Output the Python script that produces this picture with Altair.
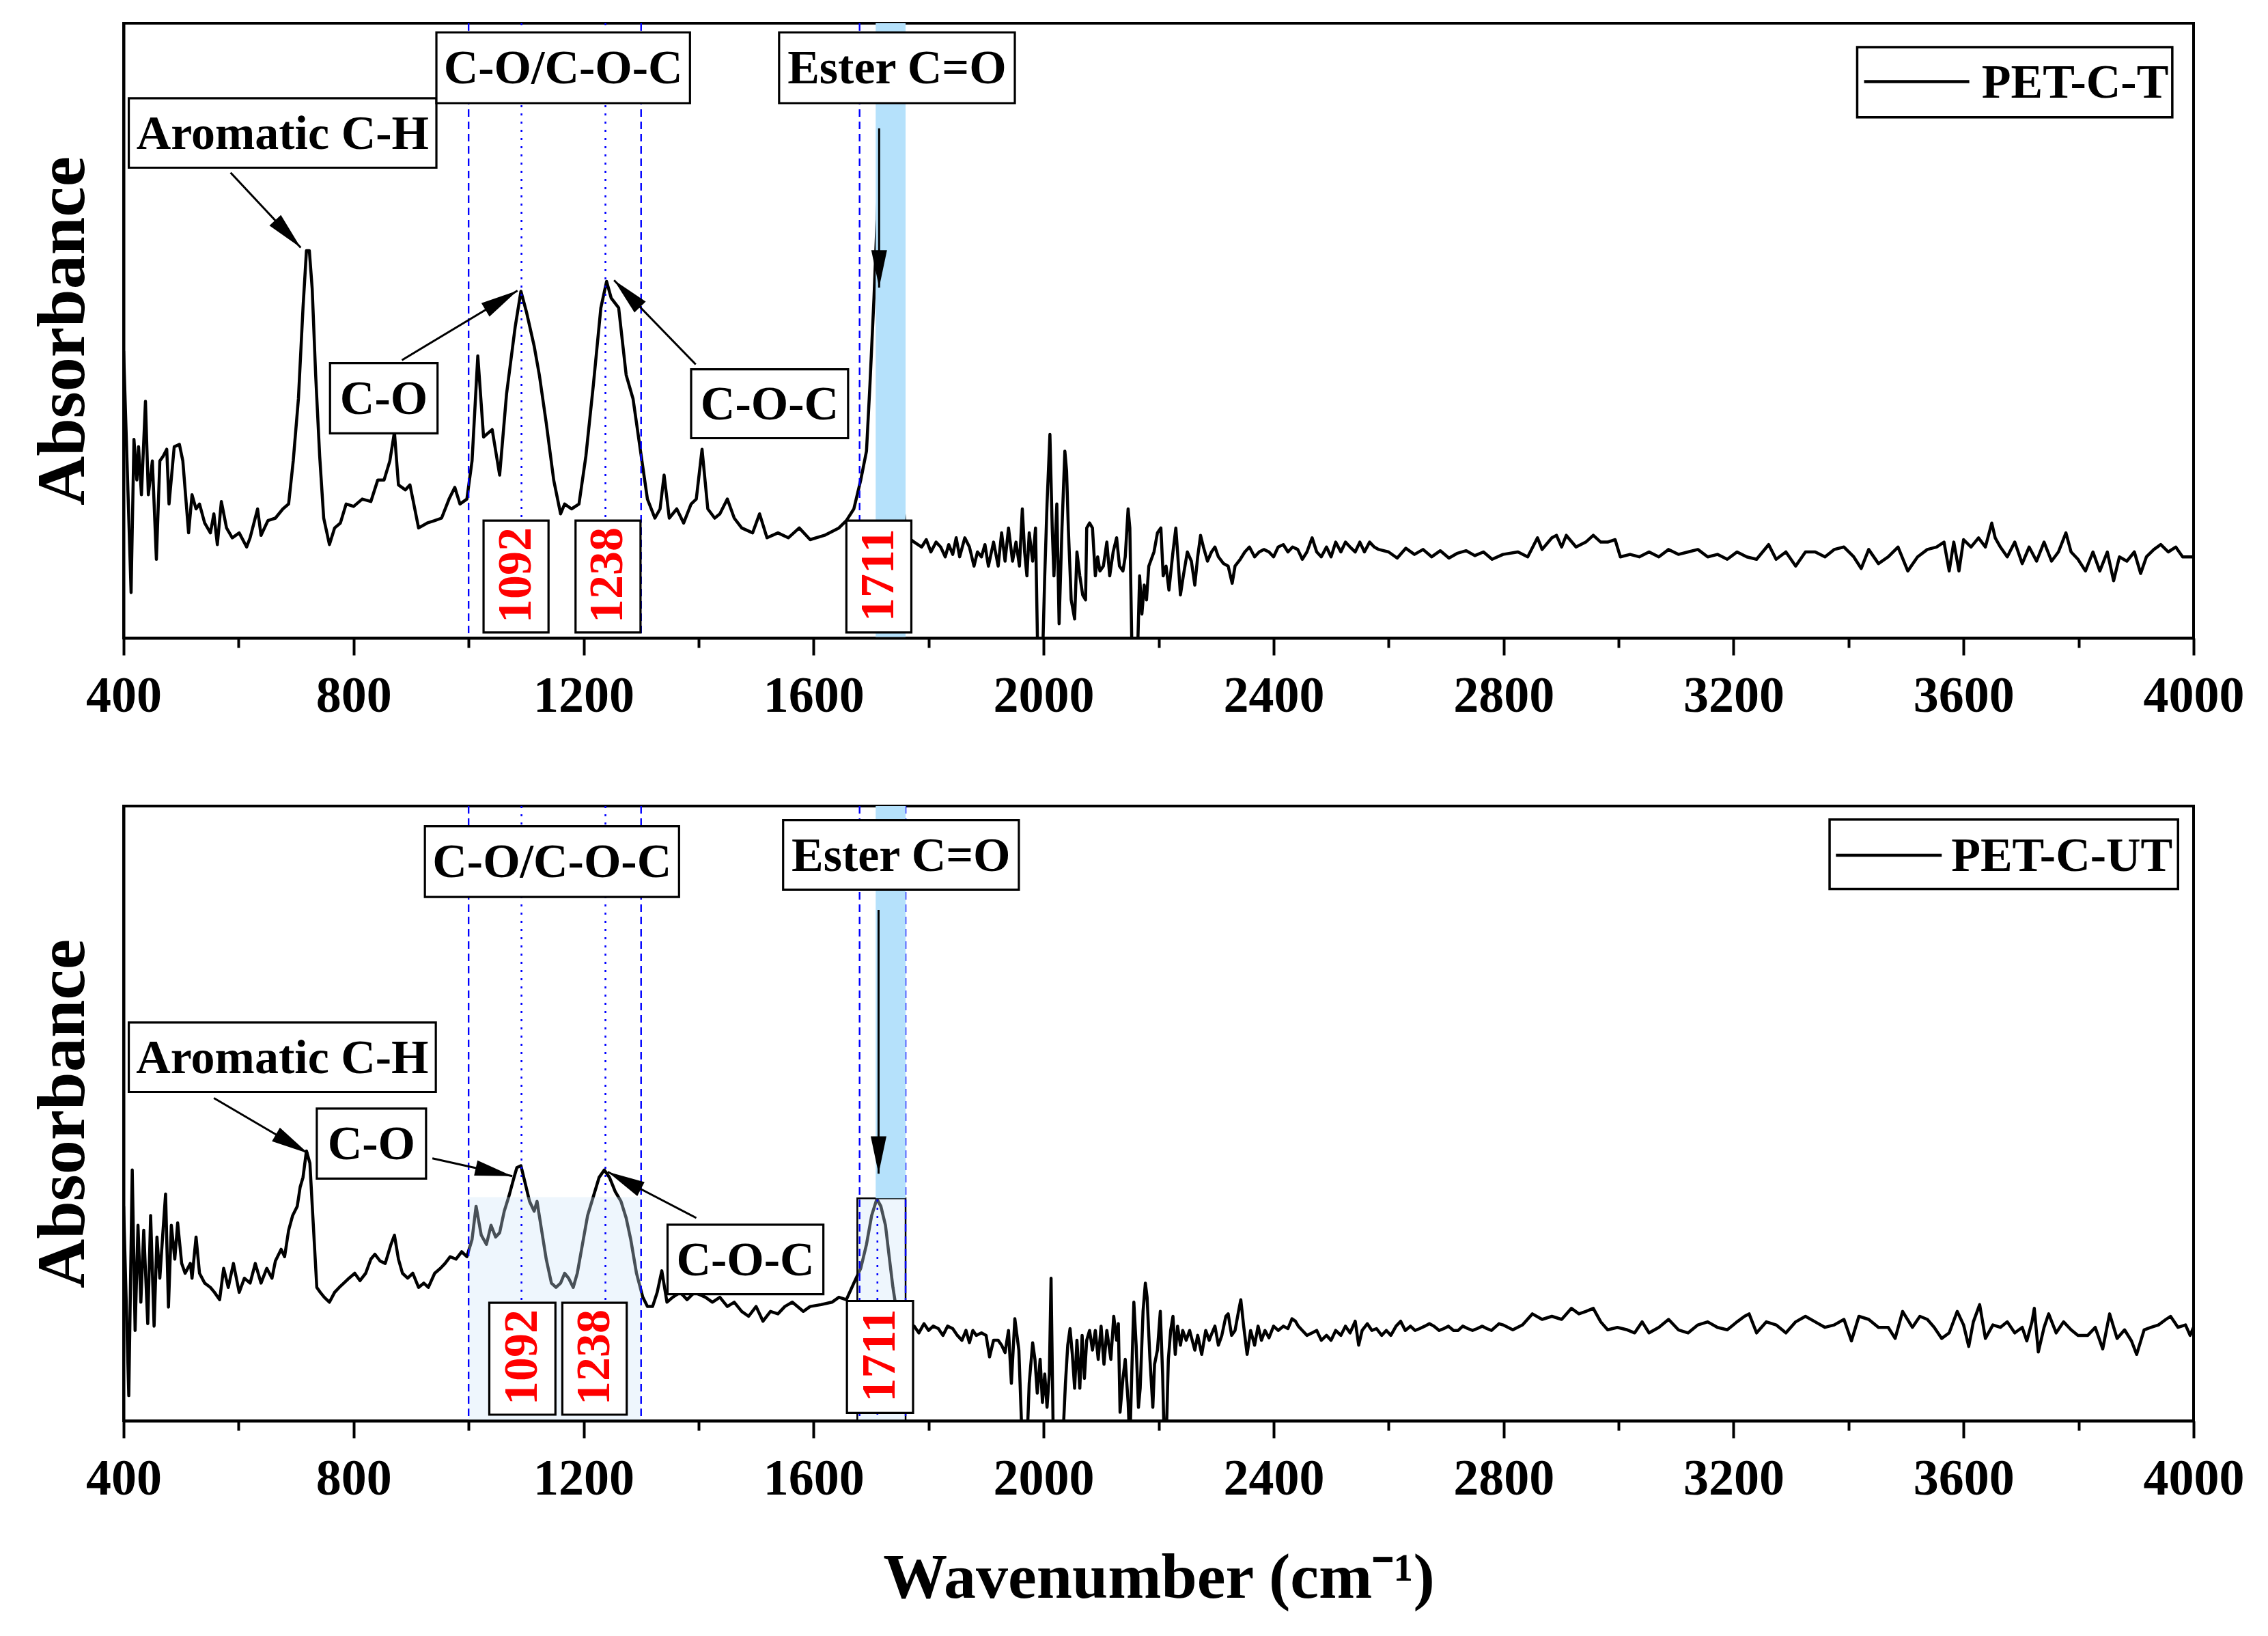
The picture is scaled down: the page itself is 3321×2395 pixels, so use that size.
import math

import altair as alt
import pandas as pd

FONT = "Liberation Serif"
W, H = 3031, 900

# PET-C-T spectrum (upper panel): (wavenumber, absorbance in % of panel height)
top_spectrum = [
    (400, 46.7), (413, 7.4), (418, 32.3), (423, 25.7), (426, 31.1), (431, 23.3), (438, 38.5), (443, 23.3),
    (450, 28.8), (457, 12.8), (463, 28.8), (469, 29.6), (475, 30.7), (479, 21.8), (488, 31.1), (497, 31.5),
    (503, 28.8), (513, 17.1), (519, 23.3), (526, 21.0), (532, 21.8), (541, 18.7), (551, 17.1), (557, 20.2),
    (563, 15.2), (570, 22.2), (579, 17.9), (589, 16.3), (601, 17.1), (614, 14.8), (620, 16.3), (633, 21.0),
    (639, 16.7), (651, 19.1), (664, 19.5), (677, 21.0), (687, 21.8), (695, 28.8), (704, 38.9), (712, 53.7),
    (718, 63.0), (723, 63.0), (728, 56.8), (734, 42.8), (741, 29.6), (748, 19.5), (758, 15.2), (767, 17.9),
    (777, 18.7), (787, 21.8), (800, 21.4), (815, 22.6), (830, 22.2), (842, 25.7), (853, 25.7), (863, 28.8),
    (871, 33.5), (878, 24.9), (890, 24.1), (898, 24.9), (903, 22.6), (913, 17.9), (928, 18.7), (941, 19.1),
    (953, 19.5), (966, 22.6), (976, 24.5), (985, 21.8), (997, 22.6), (1006, 28.8), (1016, 45.9), (1026, 32.7),
    (1041, 33.9), (1054, 26.5), (1066, 39.7), (1081, 50.6), (1091, 56.4), (1101, 52.9), (1114, 47.5),
    (1123, 42.8), (1135, 35.0), (1148, 25.7), (1160, 20.2), (1167, 21.8), (1179, 21.0), (1192, 21.8),
    (1204, 29.6), (1217, 41.2), (1230, 53.7), (1240, 58.0), (1248, 55.3), (1261, 53.7), (1274, 42.8),
    (1286, 38.9), (1299, 30.4), (1311, 22.6), (1324, 19.5), (1333, 21.0), (1340, 26.5), (1349, 19.5),
    (1362, 21.0), (1374, 18.7), (1387, 21.8), (1396, 22.6), (1406, 30.7), (1416, 21.0), (1428, 19.5),
    (1437, 20.2), (1450, 22.6), (1462, 19.5), (1475, 17.9), (1494, 17.1), (1506, 20.2), (1519, 16.3),
    (1538, 17.1), (1556, 16.3), (1575, 17.9), (1594, 16.0), (1619, 16.7), (1644, 17.9), (1657, 19.1),
    (1670, 21.0), (1682, 25.7), (1692, 30.4), (1698, 41.2), (1705, 55.3), (1712, 72.0), (1718, 74.0),
    (1745, 30.0), (1762, 16.5), (1775, 15.6), (1788, 14.8), (1796, 16.0), (1804, 14.0), (1813, 15.6),
    (1821, 14.8), (1829, 13.2), (1835, 15.2), (1842, 13.6), (1848, 16.3), (1854, 13.2), (1863, 16.3),
    (1871, 14.8), (1879, 11.7), (1885, 14.0), (1892, 13.2), (1898, 15.2), (1904, 11.7), (1913, 15.6),
    (1921, 11.7), (1927, 17.1), (1933, 12.5), (1939, 17.9), (1946, 12.5), (1952, 15.6), (1958, 11.7),
    (1963, 21.0), (1967, 14.0), (1971, 10.1), (1975, 17.1), (1981, 12.5), (1986, 17.9), (1990, -4),
    (1994, -4), (1998, -4), (2002, 10.1), (2006, 21.8), (2011, 33.1), (2015, 17.9), (2018, 10.1),
    (2023, 21.8), (2027, 2.3), (2032, 17.9), (2037, 30.4), (2040, 27.2), (2043, 17.9), (2048, 6.2),
    (2054, 3.1), (2058, 14.0), (2063, 10.1), (2068, 7.0), (2073, 6.2), (2075, 17.9), (2080, 18.7),
    (2085, 17.9), (2090, 10.1), (2094, 13.2), (2098, 10.9), (2104, 11.7), (2110, 15.6), (2115, 10.1),
    (2121, 14.0), (2127, 16.3), (2132, 11.7), (2138, 10.9), (2142, 13.2), (2147, 21.0), (2150, 17.9),
    (2154, -4), (2158, -4), (2163, -4), (2167, 10.1), (2171, 3.9), (2175, 8.6), (2179, 6.2), (2183, 11.7),
    (2192, 14.0), (2198, 17.1), (2204, 17.9), (2208, 10.1), (2213, 11.7), (2218, 7.8), (2225, 14.0),
    (2230, 17.9), (2233, 14.0), (2238, 7.0), (2243, 10.1), (2250, 14.0), (2257, 12.5), (2263, 8.6),
    (2268, 13.2), (2273, 16.7), (2278, 14.8), (2285, 12.5), (2292, 14.0), (2298, 14.8), (2304, 13.2),
    (2313, 12.1), (2321, 11.7), (2328, 8.9), (2333, 11.7), (2342, 12.8), (2350, 14.0), (2358, 14.8),
    (2367, 13.2), (2375, 14.0), (2383, 14.4), (2392, 14.0), (2400, 13.2), (2408, 14.8), (2417, 15.2),
    (2425, 14.0), (2433, 14.8), (2442, 14.4), (2450, 12.8), (2458, 14.0), (2467, 16.3), (2475, 14.0),
    (2483, 13.2), (2492, 14.8), (2500, 13.2), (2508, 15.6), (2517, 14.0), (2525, 15.6), (2533, 14.8),
    (2542, 14.0), (2550, 15.6), (2558, 14.0), (2567, 15.6), (2575, 14.8), (2583, 14.4), (2600, 14.0),
    (2615, 13.0), (2630, 14.6), (2645, 13.6), (2660, 14.4), (2675, 13.2), (2690, 14.2), (2705, 13.0),
    (2720, 13.8), (2735, 14.2), (2750, 13.4), (2765, 14.0), (2780, 12.8), (2799, 13.6), (2825, 14.0),
    (2842, 13.2), (2859, 16.3), (2867, 14.4), (2884, 16.3), (2892, 16.7), (2901, 14.8), (2909, 16.7),
    (2926, 14.8), (2943, 15.6), (2956, 16.7), (2969, 15.6), (2981, 15.6), (2994, 16.0), (3003, 13.2),
    (3020, 13.6), (3036, 13.2), (3053, 14.0), (3070, 13.2), (3087, 14.4), (3104, 13.6), (3121, 14.0),
    (3138, 14.4), (3155, 13.2), (3172, 13.6), (3189, 12.8), (3206, 14.0), (3223, 13.2), (3240, 12.8),
    (3261, 15.2), (3274, 12.8), (3291, 14.0), (3308, 11.7), (3325, 14.0), (3342, 14.0), (3359, 13.2),
    (3375, 14.4), (3392, 14.8), (3409, 13.2), (3422, 11.3), (3435, 14.4), (3452, 12.1), (3469, 13.2),
    (3486, 14.8), (3503, 10.9), (3520, 13.2), (3537, 14.4), (3553, 14.8), (3566, 15.6), (3575, 10.9),
    (3583, 15.6), (3592, 10.9), (3600, 16.0), (3613, 14.8), (3626, 16.3), (3638, 14.8), (3649, 18.7),
    (3655, 16.3), (3664, 14.8), (3676, 13.2), (3689, 15.6), (3702, 12.1), (3714, 14.8), (3727, 12.5),
    (3740, 15.6), (3753, 12.5), (3765, 14.0), (3778, 17.1), (3787, 14.0), (3799, 12.8), (3812, 10.9),
    (3825, 14.0), (3837, 10.9), (3850, 14.0), (3861, 9.3), (3871, 13.2), (3884, 12.5), (3897, 14.0),
    (3908, 10.5), (3918, 13.2), (3931, 14.4), (3943, 15.2), (3956, 14.0), (3969, 14.8), (3981, 13.2),
    (3998, 13.2), (4000, 13.2),
]

# PET-C-UT spectrum (lower panel)
bottom_spectrum = [
    (400, 34.9), (409, 4.1), (415, 40.8), (420, 14.7), (425, 31.8), (430, 19.3), (435, 31.0), (442, 15.8),
    (447, 33.4), (453, 15.4), (458, 29.9), (463, 23.2), (468, 30.2), (473, 36.9), (478, 18.5), (483, 31.8),
    (489, 26.3), (494, 32.2), (501, 25.6), (507, 24.0), (516, 25.6), (519, 23.2), (526, 29.9), (532, 24.0),
    (541, 22.4), (551, 21.7), (558, 20.9), (567, 19.7), (574, 24.8), (582, 21.7), (591, 25.6), (601, 20.9),
    (610, 23.2), (620, 22.4), (629, 25.6), (639, 22.4), (649, 24.8), (658, 23.2), (664, 26.0), (674, 27.9),
    (680, 26.7), (687, 31.0), (694, 33.4), (702, 34.9), (707, 38.0), (712, 39.6), (718, 43.9), (724, 41.9),
    (729, 33.4), (736, 21.7), (742, 20.9), (749, 20.1), (758, 19.3), (767, 20.9), (775, 21.7), (783, 22.4),
    (792, 23.2), (802, 24.0), (811, 22.8), (821, 24.0), (830, 26.3), (837, 27.1), (846, 26.0), (855, 25.6),
    (865, 28.7), (871, 30.2), (878, 26.3), (885, 24.0), (894, 23.2), (903, 24.0), (913, 21.7), (922, 22.4),
    (930, 21.7), (941, 24.0), (951, 24.8), (959, 25.6), (968, 26.7), (978, 26.3), (988, 27.5), (997, 26.7),
    (1006, 29.5), (1013, 34.9), (1022, 30.2), (1031, 28.7), (1039, 31.8), (1047, 29.9), (1054, 30.6),
    (1062, 34.1), (1070, 36.5), (1079, 39.6), (1084, 41.2), (1091, 41.5), (1098, 38.8), (1106, 35.7),
    (1114, 34.1), (1119, 35.7), (1127, 31.0), (1135, 26.3), (1144, 22.4), (1152, 21.7), (1160, 22.4),
    (1167, 24.0), (1174, 23.2), (1182, 21.7), (1189, 24.0), (1198, 28.7), (1207, 33.4), (1217, 36.5),
    (1227, 39.6), (1236, 40.8), (1245, 39.6), (1255, 37.3), (1265, 35.7), (1274, 33.0), (1282, 29.5),
    (1292, 24.0), (1303, 20.1), (1311, 18.6), (1320, 18.6), (1328, 20.9), (1336, 24.4), (1345, 19.3),
    (1355, 20.1), (1368, 20.9), (1380, 19.7), (1393, 20.9), (1412, 20.1), (1424, 19.3), (1437, 20.1),
    (1450, 18.6), (1462, 19.3), (1475, 17.8), (1487, 17.0), (1500, 18.6), (1512, 16.2), (1525, 17.8),
    (1538, 17.4), (1550, 18.6), (1563, 19.3), (1582, 17.8), (1594, 18.6), (1613, 18.9), (1632, 19.3),
    (1644, 20.1), (1657, 19.7), (1670, 22.4), (1682, 24.8), (1692, 28.7), (1701, 33.4), (1710, 36.1),
    (1717, 34.9), (1725, 31.8), (1732, 26.3), (1738, 21.7), (1742, 19.3), (1758, 16.2), (1775, 15.4),
    (1783, 14.3), (1792, 15.8), (1800, 14.7), (1808, 15.4), (1817, 15.0), (1825, 13.9), (1833, 15.4),
    (1842, 15.0), (1850, 13.9), (1858, 13.1), (1865, 14.7), (1871, 12.7), (1877, 14.7), (1883, 13.9),
    (1892, 14.3), (1900, 13.9), (1906, 10.4), (1913, 13.1), (1921, 13.1), (1927, 12.3), (1933, 11.1),
    (1939, 14.7), (1944, 6.1), (1950, 16.6), (1957, 11.5), (1963, -4), (1967, -4), (1971, -4), (1975, 6.1),
    (1981, 12.7), (1985, 10.0), (1989, 4.5), (1994, 10.0), (1998, 3.0), (2002, 7.6), (2006, 2.2),
    (2010, 7.6), (2013, 23.2), (2017, -4), (2023, -4), (2029, -4), (2033, -4), (2038, 6.1), (2042, 12.3),
    (2046, 15.0), (2050, 10.8), (2054, 5.3), (2058, 13.1), (2063, 5.3), (2067, 13.9), (2071, 6.9),
    (2075, 13.1), (2080, 14.7), (2085, 11.5), (2090, 14.7), (2095, 10.0), (2100, 15.4), (2105, 9.2),
    (2110, 14.7), (2117, 10.0), (2122, 17.0), (2127, 13.1), (2130, 15.8), (2133, 1.4), (2138, 6.9),
    (2142, 10.0), (2147, 3.0), (2150, -4), (2154, 10.0), (2157, 19.3), (2161, 12.3), (2165, 2.2),
    (2168, 5.3), (2173, 17.8), (2177, 22.4), (2180, 20.1), (2185, 10.0), (2190, 2.2), (2193, 9.2),
    (2198, 11.5), (2203, 17.8), (2207, 7.6), (2210, -4), (2213, -4), (2217, 10.0), (2221, 14.7),
    (2225, 17.0), (2229, 10.8), (2233, 15.4), (2238, 12.3), (2242, 14.7), (2248, 13.1), (2254, 14.7),
    (2263, 11.5), (2268, 13.9), (2275, 10.8), (2282, 14.7), (2288, 13.1), (2293, 14.3), (2298, 15.4),
    (2304, 12.3), (2310, 13.9), (2317, 17.0), (2321, 17.4), (2327, 13.9), (2333, 14.7), (2339, 17.8),
    (2343, 19.7), (2348, 15.4), (2354, 10.8), (2360, 14.7), (2367, 12.3), (2373, 15.4), (2379, 13.1),
    (2385, 14.7), (2392, 13.5), (2400, 15.4), (2408, 14.7), (2417, 15.4), (2425, 15.0), (2432, 16.6),
    (2438, 16.2), (2443, 15.4), (2450, 14.7), (2458, 13.9), (2467, 14.3), (2475, 14.7), (2483, 13.1),
    (2492, 13.9), (2500, 13.1), (2508, 14.7), (2517, 13.9), (2525, 15.4), (2533, 14.3), (2542, 16.2),
    (2548, 12.3), (2554, 14.7), (2563, 15.8), (2571, 14.7), (2579, 15.0), (2588, 13.9), (2596, 14.7),
    (2604, 13.9), (2613, 15.4), (2621, 16.2), (2629, 14.7), (2638, 15.4), (2646, 14.7), (2654, 15.0),
    (2663, 15.4), (2671, 15.8), (2679, 15.4), (2688, 14.7), (2696, 15.0), (2704, 15.4), (2713, 14.7),
    (2721, 14.7), (2729, 15.4), (2738, 15.0), (2746, 14.7), (2754, 15.0), (2763, 15.4), (2771, 15.0),
    (2779, 14.7), (2792, 15.8), (2799, 15.6), (2816, 14.8), (2833, 15.6), (2850, 17.4), (2867, 16.5),
    (2884, 17.0), (2901, 16.5), (2918, 18.3), (2931, 17.4), (2943, 17.8), (2956, 18.3), (2969, 16.1),
    (2981, 14.8), (2998, 15.2), (3015, 14.8), (3028, 14.3), (3041, 16.1), (3053, 14.3), (3070, 15.2),
    (3087, 16.5), (3104, 14.8), (3121, 14.3), (3138, 15.6), (3155, 16.1), (3172, 15.2), (3189, 14.8),
    (3206, 16.1), (3219, 17.0), (3227, 17.4), (3240, 14.3), (3257, 16.1), (3274, 15.6), (3291, 14.3),
    (3308, 16.1), (3325, 17.0), (3342, 16.1), (3359, 15.2), (3375, 15.6), (3392, 16.5), (3405, 13.0),
    (3418, 17.0), (3435, 16.5), (3452, 15.2), (3469, 15.2), (3481, 13.4), (3494, 17.8), (3511, 15.2),
    (3524, 17.0), (3537, 16.5), (3549, 15.2), (3562, 13.4), (3575, 14.3), (3589, 17.8), (3600, 15.6),
    (3609, 12.1), (3617, 16.1), (3628, 18.9), (3638, 13.4), (3651, 15.6), (3664, 15.2), (3676, 16.1),
    (3689, 14.3), (3702, 15.2), (3710, 13.0), (3719, 16.1), (3723, 18.3), (3730, 11.2), (3740, 15.2),
    (3748, 17.4), (3761, 14.3), (3774, 16.1), (3787, 14.8), (3799, 13.9), (3816, 13.9), (3829, 15.2),
    (3842, 11.7), (3854, 17.4), (3867, 13.4), (3880, 14.8), (3892, 13.0), (3901, 10.8), (3914, 14.8),
    (3926, 15.2), (3939, 15.6), (3952, 16.5), (3960, 17.0), (3973, 15.2), (3986, 15.6), (3994, 13.9),
    (4000, 15.2),
]

# annotation boxes: (text, wn from, wn to, abs from, abs to)
top_labels = [
    ("Aromatic C-H", 409, 944, 76.5, 87.8),
    ("C-O/C-O-C", 944, 1385, 87.0, 98.5),
    ("Ester C=O", 1540, 1950, 87.0, 98.5),
    ("C-O", 759, 946, 33.3, 44.7),
    ("C-O-C", 1387, 1660, 32.5, 43.7),
]
bottom_labels = [
    ("C-O/C-O-C", 924, 1366, 85.2, 96.7),
    ("Ester C=O", 1547, 1957, 86.4, 97.7),
    ("Aromatic C-H", 409, 943, 53.5, 64.8),
    ("C-O", 736, 926, 39.4, 50.8),
    ("C-O-C", 1346, 1617, 20.6, 31.9),
]
top_peaks = [("1092", 1026, 1139, 0.9, 19.1), ("1238", 1186, 1299, 0.9, 19.1), ("1711", 1657, 1770, 0.9, 19.1)]
bottom_peaks = [("1092", 1036, 1151, 1.0, 19.2), ("1238", 1163, 1275, 1.0, 19.2), ("1711", 1658, 1773, 1.3, 19.5)]

# arrows: (wn start, abs start, wn tip, abs tip)
top_arrows = [(586, 75.7, 708, 63.5), (884, 45.2, 1085, 56.5), (1395, 44.5, 1253, 58.2), (1714, 82.9, 1714, 57.0)]
bottom_arrows = [(557, 52.5, 721, 43.5), (937, 42.7, 1076, 39.8), (1396, 33.0, 1242, 40.5), (1713, 83.1, 1713, 40.2)]

# legend: (name, box x1, x2, y1, y2, line x1, x2, line y, text x)
top_legend = ("PET-C-T", 3415, 3963, 84.7, 96.1, 3427, 3610, 90.5, 3794)
bottom_legend = ("PET-C-UT", 3367, 3973, 86.5, 97.8, 3378, 3562, 92.0, 3771)

dashed_top = [1000, 1300, 1680]
dotted_top = [1092, 1238]
dashed_bottom = [1000, 1300, 1680, 1760]
dotted_bottom = [1092, 1238, 1711]

ARROW = "M0,0L0.42,2L-0.42,2Z"
XS = alt.Scale(domain=[400, 4000], nice=False, zero=False)
YS = alt.Scale(domain=[0, 100], nice=False, zero=False)


def x_axis(title):
    kw = dict(
        values=list(range(400, 4001, 200)),
        labelExpr="datum.value % 400 === 0 ? format(datum.value, 'd') : ''",
        tickSize={"condition": {"test": "datum.value % 400 === 0", "value": 25}, "value": 14},
        tickWidth=4, tickColor="black", domainColor="black", domainWidth=4,
        labelFont=FONT, labelFontWeight="bold", labelFontSize=74, labelColor="black",
        labelPadding=24, labelFlush=False, labelOverlap=False, grid=False, zindex=1,
        titleFont=FONT, titleFontWeight="bold", titleFontSize=94, titleColor="black", titlePadding=62,
    )
    kw["title"] = title
    return alt.Axis(**kw)


Y_AXIS = alt.Axis(
    title="Absorbance", labels=False, ticks=False, grid=False, domainColor="black", domainWidth=4,
    titleFont=FONT, titleFontWeight="bold", titleFontSize=100, titleColor="black", titlePadding=38, zindex=1,
)


def panel(spectrum, labels, peaks, arrows, legend, dashed, dotted, lower, x_title):
    xa = x_axis(x_title)

    def X(f):
        return alt.X(f"{f}:Q", scale=XS, axis=xa)

    def Y(f):
        return alt.Y(f"{f}:Q", scale=YS, axis=Y_AXIS)

    line = alt.Chart(pd.DataFrame(spectrum, columns=["wn", "a"])).mark_line(
        color="black", strokeWidth=4.5, clip=True, strokeJoin="round"
    ).encode(x=X("wn"), y=Y("a"))

    layers = [line]
    if lower:
        shade = pd.DataFrame({"x1": [1000, 1676], "x2": [1300, 1760], "y1": [0, 0], "y2": [36.4, 36.2],
                              "sw": [0, 2.5]})
        layers.append(alt.Chart(shade).mark_rect(fill="#cfe6fa", fillOpacity=0.35, stroke="black").encode(
            x=X("x1"), x2="x2:Q", y=Y("y1"), y2="y2:Q", strokeWidth=alt.StrokeWidth("sw:Q", scale=None)))
        band = pd.DataFrame({"x1": [1708], "x2": [1760], "y1": [36.2], "y2": [100]})
    else:
        band = pd.DataFrame({"x1": [1708], "x2": [1760], "y1": [0], "y2": [100]})

    vd = pd.DataFrame({"wn": dashed})
    layers.append(alt.Chart(vd).mark_rule(color="#0000ff", strokeWidth=2.4, strokeDash=[11, 7]).encode(x=X("wn")))
    vo = pd.DataFrame({"wn": dotted})
    layers.append(alt.Chart(vo).mark_rule(color="#0000ff", strokeWidth=2.6, strokeDash=[3, 9]).encode(x=X("wn")))
    layers.append(alt.Chart(band).mark_rect(fill="#b5e1fb").encode(x=X("x1"), x2="x2:Q", y=Y("y1"), y2="y2:Q"))

    boxes = pd.DataFrame(labels + peaks, columns=["t", "x1", "x2", "y1", "y2"])
    boxes["cx"] = (boxes.x1 + boxes.x2) / 2
    boxes["cy"] = (boxes.y1 + boxes.y2) / 2
    layers.append(alt.Chart(boxes).mark_rect(fill="white", stroke="black", strokeWidth=3.2).encode(
        x=X("x1"), x2="x2:Q", y=Y("y1"), y2="y2:Q"))
    layers.append(alt.Chart(boxes.iloc[: len(labels)]).mark_text(
        font=FONT, fontWeight="bold", fontSize=70, color="black", baseline="middle", dy=2
    ).encode(x=X("cx"), y=Y("cy"), text="t:N"))
    layers.append(alt.Chart(boxes.iloc[len(labels):]).mark_text(
        font=FONT, fontWeight="bold", fontSize=70, color="#ff0000", angle=270, baseline="middle", dx=2
    ).encode(x=X("cx"), y=Y("cy"), text="t:N"))

    arr = pd.DataFrame(arrows, columns=["x1", "y1", "x2", "y2"])
    dx = (arr.x2 - arr.x1) * W / 3600
    dy = (arr.y2 - arr.y1) * H / 100
    arr["ang"] = [math.degrees(math.atan2(a, b)) % 360 for a, b in zip(dx, dy)]
    layers.append(alt.Chart(arr).mark_rule(color="black", strokeWidth=3).encode(
        x=X("x1"), x2="x2:Q", y=Y("y1"), y2="y2:Q"))
    layers.append(alt.Chart(arr).mark_point(shape=ARROW, filled=True, color="black", size=3000, opacity=1).encode(
        x=X("x2"), y=Y("y2"), angle=alt.Angle("ang:Q", scale=None)))

    name, bx1, bx2, by1, by2, lx1, lx2, ly, tx = legend
    leg = pd.DataFrame({"t": [name], "bx1": [bx1], "bx2": [bx2], "by1": [by1], "by2": [by2],
                        "lx1": [lx1], "lx2": [lx2], "ly": [ly], "tx": [tx]})
    layers.append(alt.Chart(leg).mark_rect(fill="white", stroke="black", strokeWidth=3.5).encode(
        x=X("bx1"), x2="bx2:Q", y=Y("by1"), y2="by2:Q"))
    layers.append(alt.Chart(leg).mark_rule(color="black", strokeWidth=4.5).encode(
        x=X("lx1"), x2="lx2:Q", y=Y("ly")))
    layers.append(alt.Chart(leg).mark_text(
        font=FONT, fontWeight="bold", fontSize=70, color="black", baseline="middle", dy=2
    ).encode(x=X("tx"), y=Y("ly"), text="t:N"))

    return alt.layer(*layers).properties(width=W, height=H)


top = panel(top_spectrum, top_labels, top_peaks, top_arrows, top_legend, dashed_top, dotted_top, False, None)
bottom = panel(bottom_spectrum, bottom_labels, bottom_peaks, bottom_arrows, bottom_legend,
               dashed_bottom, dotted_bottom, True, "Wavenumber (cm\u207b\u00b9)")

chart = alt.vconcat(top, bottom, spacing=118).properties(
    padding={"left": 32, "top": 22, "right": 5, "bottom": 5}, background="white"
).configure_view(stroke="black", strokeWidth=4)

chart.save("out.html", embed_options={"renderer": "svg", "actions": False})
